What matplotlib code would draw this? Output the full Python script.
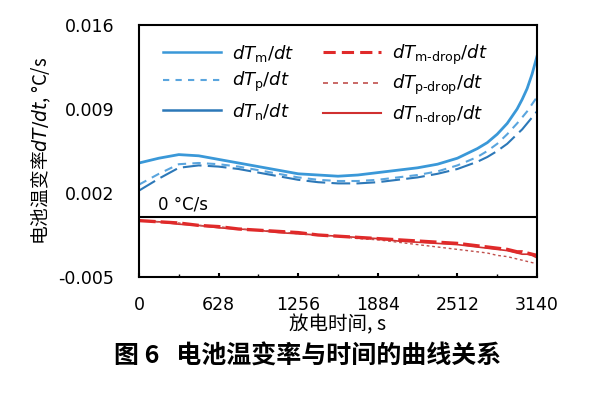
import matplotlib
matplotlib.use('Agg')
import matplotlib.pyplot as plt
from matplotlib.lines import Line2D
from matplotlib.ticker import MultipleLocator

plt.rcParams['font.family'] = ['Noto Sans CJK SC', 'DejaVu Sans']
plt.rcParams['mathtext.fontset'] = 'dejavusans'

# discharge time, s
t = [0, 157, 314, 471, 628, 785, 942, 1099, 1256, 1413, 1570,
     1727, 1884, 2041, 2198, 2355, 2512, 2669, 2748, 2826, 2905, 2983, 3023, 3062, 3101, 3140]

# temperature change rate, degC/s
dTm = [0.0045, 0.0049, 0.0052, 0.0051, 0.0048, 0.0045, 0.0042, 0.0039, 0.0036, 0.0035, 0.0034,
       0.0035, 0.0037, 0.0039, 0.0041, 0.0044, 0.0049, 0.0057, 0.0062, 0.0069, 0.0078, 0.0090,
       0.0098, 0.0107, 0.0119, 0.0134]
dTp = [0.0027, 0.0036, 0.0044, 0.0045, 0.0044, 0.0042, 0.0039, 0.0036, 0.0033, 0.0031, 0.0030,
       0.0030, 0.0031, 0.0033, 0.0035, 0.0038, 0.0043, 0.0050, 0.0055, 0.0061, 0.0069, 0.0078,
       0.0083, 0.0088, 0.0094, 0.0100]
dTn = [0.0022, 0.0032, 0.0041, 0.0043, 0.0042, 0.0040, 0.0037, 0.0034, 0.0031, 0.0029, 0.0028,
       0.0028, 0.0029, 0.0031, 0.0033, 0.0036, 0.0040, 0.0046, 0.0050, 0.0055, 0.0061, 0.0069,
       0.0073, 0.0078, 0.0083, 0.0088]
dTm_drop = [-0.0003, -0.0004, -0.0005, -0.0007, -0.0008, -0.0010, -0.0011, -0.0012, -0.0013, -0.0015, -0.0016,
            -0.0017, -0.0018, -0.0019, -0.0020, -0.0021, -0.0022, -0.0024, -0.0025, -0.0026, -0.0027, -0.0029,
            -0.0029, -0.0030, -0.0031, -0.0032]
dTp_drop = [-0.0003, -0.0004, -0.0005, -0.0007, -0.0008, -0.0010, -0.0011, -0.0012, -0.0014, -0.0015, -0.0016,
            -0.0018, -0.0019, -0.0021, -0.0023, -0.0025, -0.0027, -0.0029, -0.0030, -0.0032, -0.0033, -0.0035,
            -0.0036, -0.0037, -0.0038, -0.0039]
dTn_drop = [-0.0003, -0.0004, -0.0006, -0.0007, -0.0009, -0.0010, -0.0011, -0.0013, -0.0014, -0.0015, -0.0016,
            -0.0017, -0.0018, -0.0020, -0.0021, -0.0022, -0.0023, -0.0025, -0.0026, -0.0027, -0.0028, -0.0030,
            -0.0031, -0.0031, -0.0032, -0.0034]

xticks = [0, 628, 1256, 1884, 2512, 3140]
yticks = [-0.005, 0.002, 0.009, 0.016]

fig = plt.figure(figsize=(5.92, 3.96), dpi=100)
ax = fig.add_axes([139/592, 1 - 277/396, 398/592, 252/396])

blue1, blue2, blue3 = '#3a98d8', '#5aa5de', '#2c78b8'
red1, red2, red3 = '#e02a2a', '#c0504d', '#d03030'

ax.plot(t, dTm, color=blue1, lw=2.0)
ax.plot(t, dTp, color=blue2, lw=1.5, ls=(0, (4, 3)))
ax.plot(t, dTn, color=blue3, lw=1.5, ls=(0, (9, 3)))
ax.plot(t, dTn_drop, color=red3, lw=1.2)
ax.plot(t, dTp_drop, color=red2, lw=1.0, ls=(0, (2, 2)))
ax.plot(t, dTm_drop, color=red1, lw=2.4, ls=(0, (5, 1.5)))

ax.axhline(0, color='black', lw=1.5)
ax.text(150, 0.0003, '0 °C/s', fontsize=12, family=['DejaVu Sans'], va='bottom')

ax.set_xlim(0, 3140)
ax.set_ylim(-0.005, 0.016)
ax.set_xticks(xticks)
ax.set_xticklabels([str(v) for v in xticks], family=['DejaVu Sans'])
ax.set_yticks(yticks)
ax.set_yticklabels(['-0.005', '0.002', '0.009', '0.016'], family=['DejaVu Sans'])
ax.xaxis.set_minor_locator(MultipleLocator(314))
ax.tick_params(axis='y', length=0, pad=18, labelsize=12.5)
ax.tick_params(axis='x', which='major', direction='in', length=3, width=1.5, pad=14, labelsize=12.5)
ax.tick_params(axis='x', which='minor', direction='in', length=2, width=1)
for s in ax.spines.values():
    s.set_linewidth(1.5)

handles = [
    Line2D([], [], color=blue1, lw=1.8),
    Line2D([], [], color=blue2, lw=1.5, ls=(0, (3, 3))),
    Line2D([], [], color=blue3, lw=1.8),
    Line2D([], [], color=red1, lw=2.2, ls=(0, (4, 2))),
    Line2D([], [], color=red2, lw=1.2, ls=(0, (3, 3))),
    Line2D([], [], color=red3, lw=1.5),
]
labels = [r'$dT_{\mathrm{m}}/dt$', r'$dT_{\mathrm{p}}/dt$', r'$dT_{\mathrm{n}}/dt$',
          r'$dT_{\mathrm{m}\text{-}\mathrm{drop}}/dt$',
          r'$dT_{\mathrm{p}\text{-}\mathrm{drop}}/dt$',
          r'$dT_{\mathrm{n}\text{-}\mathrm{drop}}/dt$']
ax.legend(handles, labels, ncol=2, frameon=False, fontsize=13,
          loc='upper left', bbox_to_anchor=(0.02, 0.995),
          handlelength=3.2, handletextpad=0.6, columnspacing=1.6,
          labelspacing=0.35)

ax.set_ylabel('电池温变率$dT/dt$, °C/s', fontsize=13.5, labelpad=4)
ax.set_xlabel('放电时间, s', fontsize=14, labelpad=0)

fig.text(0.52, 1 - 357/396, '图 6   电池温变率与时间的曲线关系',
         ha='center', va='center', fontsize=18, fontweight='bold')

fig.savefig('out.png', dpi=100)
